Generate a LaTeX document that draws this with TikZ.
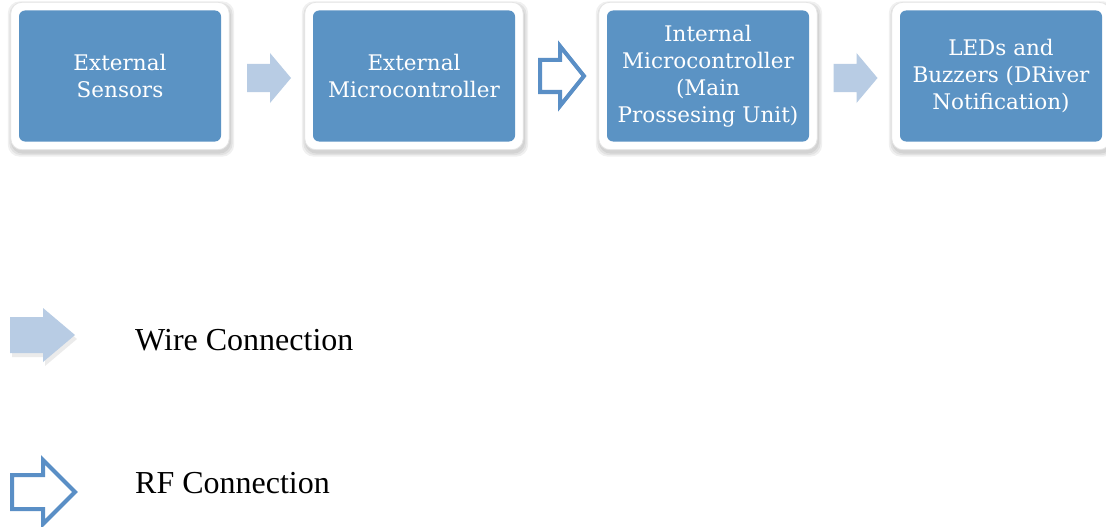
\documentclass[tikz,border=0pt]{standalone}
\usepackage{fontspec}
\setmainfont{DejaVu Serif}
\newfontfamily\legendfont{Liberation Serif}
\usetikzlibrary{calc,backgrounds}
\definecolor{boxblue}{HTML}{5B93C4}
\definecolor{wireblue}{HTML}{B8CCE4}
\definecolor{rfblue}{HTML}{5A8FC6}
\newcommand{\blockarr}[7]{%
  \draw[#1, shift={(#2)}] (#3,-#6) -- (#4,-#6) -- (#4,-#7) -- (#5,0) -- (#4,#7) -- (#4,#6) -- (#3,#6) -- cycle;}
\begin{document}
\begin{tikzpicture}[x=1pt,y=-1pt,
  box/.style={rectangle, rounded corners=6pt, fill=boxblue, minimum width=202pt,
    minimum height=131pt, text=white, align=center, inner sep=0pt,
    font=\fontsize{21.5}{27}\selectfont},
  wire/.style={fill=wireblue, draw=none},
  wireshadow/.style={fill=black, opacity=0.08, draw=none},
  rf/.style={fill=white, draw=rfblue, line width=4pt, line join=miter},
  legendtext/.style={font=\legendfont\fontsize{32}{36}\selectfont, text=black, inner sep=0pt},
  frame/.style={fill=white, draw=black!10, line width=0.8pt, rounded corners=11pt},
  frameshadow/.style={fill=black, opacity=0.06, rounded corners=12pt}
]
\useasboundingbox (0,0) rectangle (1106,527);

\node[box] (b1) at (120,76) {External\\Sensors};
\node[box] (b2) at (414,76) {External\\Microcontroller};
\node[box] (b3) at (708,76) {Internal\\Microcontroller\\(Main\\Prossesing Unit)};
\node[box] (b4) at (1001,76) {LEDs and\\Buzzers (DRiver\\Notification)};

\begin{scope}[on background layer]
\fill[white] (0,0) rectangle (1106,527);
\foreach \b in {b1,b2,b3,b4}{
  \foreach \d in {1,2.5,4}{
    \fill[frameshadow] ($(\b.north west)+(-8-\d+1,-8-\d+3)$) rectangle ($(\b.south east)+(8+\d+1,8+\d+3)$);
  }
  \draw[frame] ($(\b.north west)+(-8,-8)$) rectangle ($(\b.south east)+(8,8)$);
}
\end{scope}

\coordinate (a1) at ($(b1.east)!0.5!(b2.west)+(2,2)$);
\coordinate (a2) at ($(b2.east)!0.5!(b3.west)+(1,0)$);
\coordinate (a3) at ($(b3.east)!0.5!(b4.west)+(1,2)$);

\blockarr{wire}{a1}{-22}{1}{22}{14}{25}
\blockarr{rf}{a2}{-22}{-2}{22}{16}{30}
\blockarr{wire}{a3}{-22}{1}{22}{14}{25}

% legend
\coordinate (lwa) at (42,335);
\coordinate (lwas) at (44,339);
\coordinate (lra) at (44,492);
\blockarr{wireshadow}{lwas}{-32}{1}{33}{18}{27}
\blockarr{wire}{lwa}{-32}{1}{33}{18}{27}
\node[legendtext, anchor=base west] (lw) at (135,350) {Wire Connection};
\blockarr{rf}{lra}{-32}{-1}{31}{17}{32}
\node[legendtext, anchor=base west] (lr) at (135,493) {RF Connection};
\end{tikzpicture}
\end{document}
